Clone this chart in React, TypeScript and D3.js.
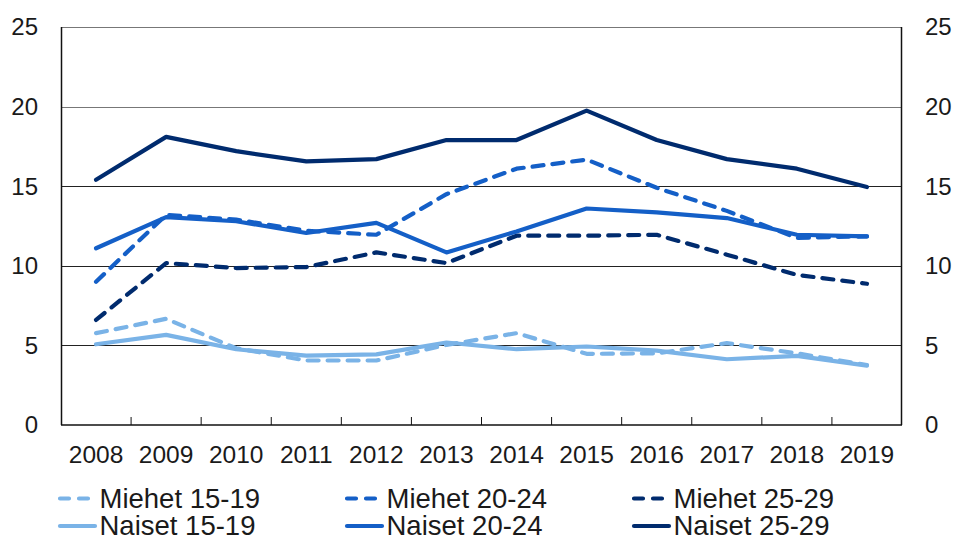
import React from "react";
import * as d3 from "d3";

const years = ["2008","2009","2010","2011","2012","2013","2014","2015","2016","2017","2018","2019"];
const miehet1519 = [5.77, 6.67, 4.82, 4.05, 4.05, 5.03, 5.77, 4.47, 4.5, 5.14, 4.5, 3.77];
const miehet2024 = [9.0, 13.2, 12.9, 12.2, 11.95, 14.5, 16.1, 16.67, 14.9, 13.45, 11.75, 11.85];
const miehet2529 = [6.6, 10.17, 9.86, 9.92, 10.84, 10.17, 11.89, 11.89, 11.95, 10.7, 9.43, 8.87];
const naiset1519 = [5.07, 5.66, 4.76, 4.36, 4.44, 5.18, 4.76, 4.93, 4.67, 4.13, 4.34, 3.73];
const naiset2024 = [11.1, 13.06, 12.8, 12.06, 12.7, 10.84, 12.16, 13.6, 13.35, 13.0, 11.95, 11.85];
const naiset2529 = [15.4, 18.1, 17.2, 16.56, 16.7, 17.9, 17.9, 19.75, 17.9, 16.7, 16.1, 14.95];
const yTicks = [0, 5, 10, 15, 20, 25];

const LIGHT = "#7AB3E7";
const MID = "#145FC7";
const DARK = "#002B6E";

const series = [
  { name: "Miehet 15-19", values: miehet1519, color: LIGHT, dashed: true },
  { name: "Miehet 20-24", values: miehet2024, color: MID, dashed: true },
  { name: "Miehet 25-29", values: miehet2529, color: DARK, dashed: true },
  { name: "Naiset 15-19", values: naiset1519, color: LIGHT, dashed: false },
  { name: "Naiset 20-24", values: naiset2024, color: MID, dashed: false },
  { name: "Naiset 25-29", values: naiset2529, color: DARK, dashed: false },
];

const W = 954, H = 538;
const left = 61, right = 902, top = 27, bottom = 425;
const FONT = "'Liberation Sans', Arial, sans-serif";

export default function App() {
  const x = d3.scaleBand<string>().domain(years).range([left, right]).padding(0);
  const y = d3.scaleLinear().domain([0, 25]).range([bottom, top]);
  const line = d3
    .line<number>()
    .x((_, i) => (x(years[i]) as number) + x.bandwidth() / 2)
    .y((d) => y(d));

  const boundaries = years.slice(1).map((yr) => x(yr) as number);

  return (
    <svg width={W} height={H} style={{ position: "absolute", left: 0, top: 0 }} fontFamily={FONT}>
      <rect x={0} y={0} width={W} height={H} fill="#fff" />
      {yTicks.filter((t) => t > 0).map((t) => (
        <line key={"g" + t} x1={left} x2={right} y1={Math.round(y(t)) + 0.5} y2={Math.round(y(t)) + 0.5} stroke={t === 25 || t === 20 ? "#777" : "#222"} strokeWidth={1} />
      ))}
      <line x1={left + 0.5} x2={left + 0.5} y1={top} y2={bottom} stroke="#111" strokeWidth={1.5} />
      <line x1={right - 0.5} x2={right - 0.5} y1={top} y2={bottom} stroke="#111" strokeWidth={1.5} />
      <line x1={left} x2={right} y1={bottom} y2={bottom} stroke="#111" strokeWidth={1.5} />
      {boundaries.map((bx, i) => (
        <line key={"t" + i} x1={bx} x2={bx} y1={bottom} y2={bottom - 8} stroke="#111" strokeWidth={1} />
      ))}
      {yTicks.map((t) => (
        <text key={"l" + t} x={38} y={y(t)} dy="0.35em" textAnchor="end" fontSize={24} fill="#1a1a1a">{t}</text>
      ))}
      {yTicks.map((t) => (
        <text key={"r" + t} x={925} y={y(t)} dy="0.35em" textAnchor="start" fontSize={24} fill="#1a1a1a">{t}</text>
      ))}
      {years.map((yr) => (
        <text key={"x" + yr} x={(x(yr) as number) + x.bandwidth() / 2} y={463} textAnchor="middle" fontSize={24.5} fill="#1a1a1a">{yr}</text>
      ))}
      {series.map((s) => (
        <path key={s.name} d={line(s.values) || ""} fill="none" stroke={s.color} strokeWidth={4.2} strokeDasharray={s.dashed ? "11,9" : undefined} strokeLinejoin="round" strokeLinecap="round" />
      ))}
      {series.map((s, i) => {
        const col = i % 3;
        const row = Math.floor(i / 3);
        const lx = 58 + col * 287;
        const ly = 498.5 + row * 27.5;
        return (
          <g key={"leg" + s.name}>
            <line x1={lx + 2} x2={lx + (s.dashed ? 33 : 37)} y1={ly} y2={ly} stroke={s.color} strokeWidth={4.2} strokeLinecap="round" strokeDasharray={s.dashed ? "9,10" : undefined} />
            <text x={lx + 41.5} y={ly + 9.3} fontSize={27.5} fill="#1a1a1a">{s.name}</text>
          </g>
        );
      })}
    </svg>
  );
}
